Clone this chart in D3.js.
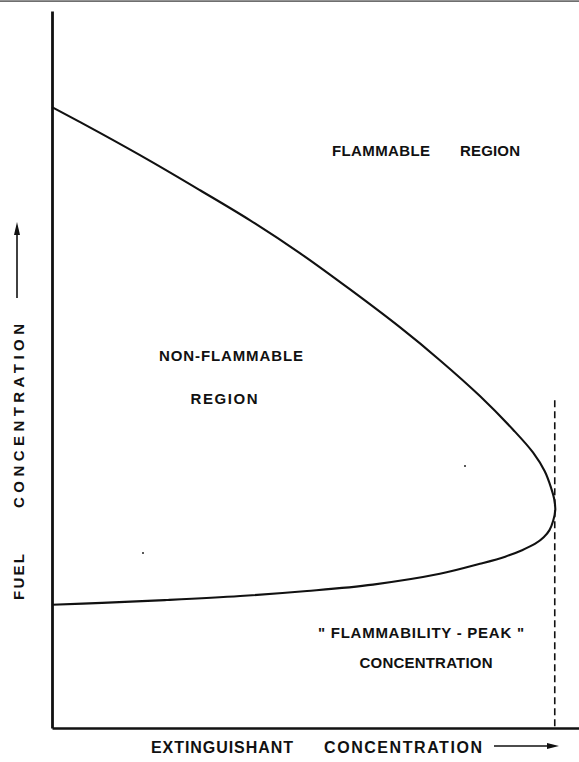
<!DOCTYPE html>
<html>
<head>
<meta charset="utf-8">
<script src="https://cdn.jsdelivr.net/npm/d3@7"></script>
<style>
  html, body { margin: 0; padding: 0; background: #fff; }
  svg { display: block; }
  text { font-family: "Liberation Sans", Arial, sans-serif; font-weight: bold; fill: #111; }
</style>
</head>
<body>
<svg id="chart" width="579" height="762"></svg>
<script>
// ---- data ----
// Flammability boundary: extinguishant concentration (x, % of axis) vs fuel concentration (y, % of axis)
// upper branch from the fuel axis down to the peak, then the lower branch back to the fuel axis
const extinguishant = [0, 9.1, 18.6, 28.1, 37.6, 47.1, 56.5, 66.0, 73.6, 81.2, 87.5, 91.3, 93.5, 94.7, 95.3, 95.5,
                       95.1, 94.4, 93.3, 91.7, 89.2, 86.0, 81.2, 73.6, 60.9, 48.4, 35.7, 21.8, 9.5, 0];
const fuel          = [86.6, 83.0, 79.1, 75.0, 70.8, 66.2, 61.2, 55.9, 51.3, 46.3, 41.6, 38.4, 35.8, 33.5, 31.9, 30.4,
                       28.9, 27.6, 26.6, 25.7, 24.8, 23.9, 22.9, 21.5, 20.0, 19.1, 18.4, 17.85, 17.45, 17.2];
const peakConcentration = 95.4;   // "flammability-peak" extinguishant concentration
const peakLineTop = 45.7;         // fuel level where the dashed marker starts
const regionLabels = ["FLAMMABLE", "REGION", "NON-FLAMMABLE", "REGION"];
const peakLabels = ["\" FLAMMABILITY - PEAK \"", "CONCENTRATION"];
const xAxisTitle = ["EXTINGUISHANT", "CONCENTRATION"];
const yAxisTitle = ["FUEL", "CONCENTRATION"];

// ---- drawing ----
const svg = d3.select("#chart");
const x = d3.scaleLinear().domain([0, 100]).range([52, 579]);
const y = d3.scaleLinear().domain([0, 100]).range([728, 11]);

// scan border at the very top
svg.append("line").attr("x1", 0).attr("x2", 579).attr("y1", 1.2).attr("y2", 1.2)
  .attr("stroke", "#6f6f6f").attr("stroke-width", 1.8);

// axes (no ticks)
const gx = svg.append("g").attr("transform", `translate(0,${y(0)})`)
  .call(d3.axisBottom(x).ticks(0).tickSizeOuter(0));
const gy = svg.append("g").attr("transform", `translate(${x(0)},0)`)
  .call(d3.axisLeft(y).ticks(0).tickSizeOuter(0));
gx.select(".domain").attr("stroke", "#111").attr("stroke-width", 2.4);
gy.select(".domain").attr("stroke", "#111").attr("stroke-width", 2.8);

// dashed peak line
svg.append("line")
  .attr("x1", x(peakConcentration)).attr("x2", x(peakConcentration))
  .attr("y1", y(peakLineTop)).attr("y2", y(0))
  .attr("stroke", "#111").attr("stroke-width", 1.6).attr("stroke-dasharray", "7,4");

// boundary curve
const pts = extinguishant.map((v, i) => ({ x: v, y: fuel[i] }));
svg.append("path").datum(pts)
  .attr("fill", "none").attr("stroke", "#111").attr("stroke-width", 2.1)
  .attr("stroke-linejoin", "round")
  .attr("d", d3.line().x(d => x(d.x)).y(d => y(d.y)).curve(d3.curveCatmullRom.alpha(0.5)));

// labels
function label(txt, cx, cy, len, size, rot) {
  svg.append("text")
    .attr("transform", `translate(${cx},${cy})` + (rot ? " rotate(-90)" : ""))
    .attr("text-anchor", "middle").attr("dominant-baseline", "central")
    .attr("font-size", size).attr("textLength", len).attr("lengthAdjust", "spacing")
    .text(txt);
}
label(regionLabels[0], 381, 150, 98, 15);
label(regionLabels[1], 490, 150, 60, 15);
label(regionLabels[2], 231, 355, 144, 15);
label(regionLabels[3], 224, 398, 67, 15);
label(peakLabels[0], 421, 632, 206, 15);
label(peakLabels[1], 426, 662, 133, 15);

// x axis title + arrow
label(xAxisTitle[0], 222, 747, 142, 16);
label(xAxisTitle[1], 403, 747, 158, 16);
svg.append("line").attr("x1", 494).attr("x2", 550).attr("y1", 746).attr("y2", 746)
  .attr("stroke", "#111").attr("stroke-width", 1.6);
svg.append("path").attr("d", "M559,746 L547,743 L547,749 Z").attr("fill", "#111");

// y axis title + arrow
label(yAxisTitle[0], 18, 577, 46, 15, true);
label(yAxisTitle[1], 18, 416, 184, 15, true);
svg.append("line").attr("x1", 17).attr("x2", 17).attr("y1", 298).attr("y2", 232)
  .attr("stroke", "#111").attr("stroke-width", 1.6);
svg.append("path").attr("d", "M17,222 L14,235 L20,235 Z").attr("fill", "#111");

// scan specks
svg.append("circle").attr("cx", 143).attr("cy", 553).attr("r", 1).attr("fill", "#222");
svg.append("circle").attr("cx", 465).attr("cy", 466).attr("r", 1).attr("fill", "#222");
</script>
</body>
</html>
